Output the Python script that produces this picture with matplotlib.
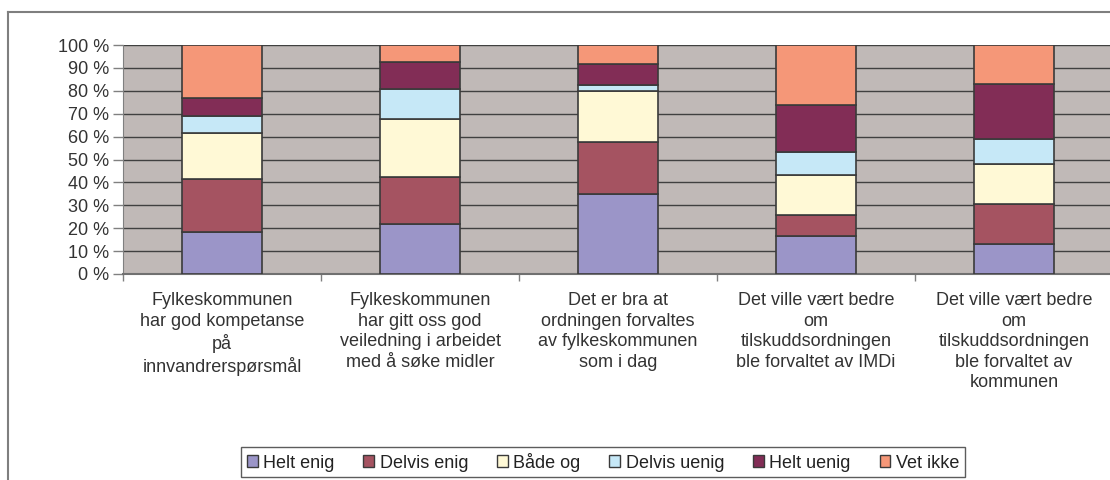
import matplotlib
matplotlib.use("Agg")
import matplotlib.pyplot as plt
from matplotlib.patches import Patch
from matplotlib.lines import Line2D
import numpy as np

plt.rcParams['font.family'] = ['Liberation Sans', 'DejaVu Sans']

categories = [
    "Fylkeskommunen\nhar god kompetanse\npå\ninnvandrerspørsmål",
    "Fylkeskommunen\nhar gitt oss god\nveiledning i arbeidet\nmed å søke midler",
    "Det er bra at\nordningen forvaltes\nav fylkeskommunen\nsom i dag",
    "Det ville vært bedre\nom\ntilskuddsordningen\nble forvaltet av IMDi",
    "Det ville vært bedre\nom\ntilskuddsordningen\nble forvaltet av\nkommunen",
]
series_names = ["Helt enig", "Delvis enig", "Både og", "Delvis uenig", "Helt uenig", "Vet ikke"]
helt_enig    = [18.3, 21.7, 34.8, 16.8, 13.3]
delvis_enig  = [23.4, 20.5, 22.7,  9.1, 17.2]
baade_og     = [19.8, 25.4, 22.6, 17.3, 17.5]
delvis_uenig = [ 7.6, 13.2,  2.6, 10.2, 10.9]
helt_uenig   = [ 7.8, 11.7,  9.2, 20.5, 24.1]
vet_ikke     = [23.1,  7.5,  8.1, 26.1, 17.0]
yticks = [0, 10, 20, 30, 40, 50, 60, 70, 80, 90, 100]
ytick_labels = [f"{v} %" for v in yticks]

colors = ["#9b95c8", "#a55361", "#fff9d6", "#c6e8f7", "#822d56", "#f59778"]
series = [helt_enig, delvis_enig, baade_og, delvis_uenig, helt_uenig, vet_ikke]

W, H = 1110, 480
FS = 13
fig = plt.figure(figsize=(W/100, H/100), dpi=100)

# outer frame (left and top edges visible)
fig.add_artist(Line2D([8/W, 8/W], [0, 1-12/H], transform=fig.transFigure, color="#7f7f7f", lw=1.5))
fig.add_artist(Line2D([8/W, 1], [1-12/H, 1-12/H], transform=fig.transFigure, color="#7f7f7f", lw=1.5))

left, right = 123, 1113
top, bottom = 45, 274
ax = fig.add_axes([left/W, 1-bottom/H, (right-left)/W, (bottom-top)/H])
ax.set_facecolor("#c0b9b7")

x = np.arange(len(categories))
base = np.zeros(len(categories))
for name, vals, c in zip(series_names, series, colors):
    ax.bar(x, vals, bottom=base, width=0.4, color=c, edgecolor="#3a3a3a", linewidth=1.2, zorder=3, label=name)
    base += np.array(vals)

ax.set_xlim(-0.5, len(categories)-0.5)
ax.set_ylim(0, 100)
ax.set_yticks(yticks)
ax.set_yticklabels(ytick_labels, fontsize=FS, color="#333333")
ax.yaxis.grid(True, color="#404040", linewidth=1, zorder=1)
ax.set_axisbelow(True)

ax.set_xticks(np.arange(len(categories)+1)-0.5, minor=False)
ax.set_xticklabels([])
ax.tick_params(axis='x', length=5, color="#808080", width=1)
ax.tick_params(axis='y', length=7, color="#808080", width=1, pad=3)
for i, lab in enumerate(categories):
    ax.text(i, -0.08, lab, transform=ax.get_xaxis_transform(), ha='center', va='top',
            fontsize=FS, color="#333333", linespacing=1.27)

for s in ['top', 'right']:
    ax.spines[s].set_visible(False)
ax.spines['left'].set_color("#808080")
ax.spines['bottom'].set_color("#707070")
ax.spines['bottom'].set_linewidth(1.5)

handles = [Patch(facecolor=c, edgecolor="#3a3a3a", linewidth=1.0) for c in colors]
leg = fig.legend(handles, series_names, loc='center', bbox_to_anchor=(603/W, 1-462/H), ncol=6,
                 fontsize=FS, frameon=True, fancybox=False, edgecolor="#333333",
                 handlelength=0.6, handleheight=0.6, handletextpad=0.3, columnspacing=1.6,
                 borderpad=0.3, borderaxespad=0)
leg.get_frame().set_linewidth(1.0)
for t in leg.get_texts():
    t.set_color("#222222")

fig.savefig("out.png", dpi=100)
